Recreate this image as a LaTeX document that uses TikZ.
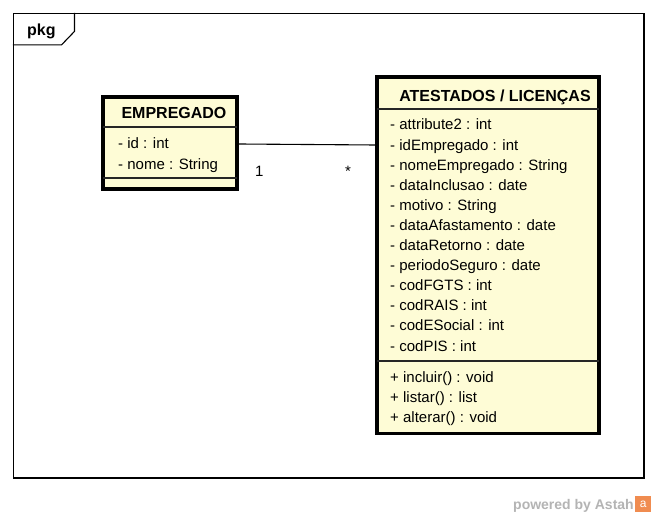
\documentclass[tikz,border=0pt]{standalone}
\usepackage{fontspec}
\setmainfont{Liberation Sans}
\definecolor{classfill}{RGB}{254,252,214}
\definecolor{wmgray}{RGB}{180,180,180}
\definecolor{astahorange}{RGB}{240,140,80}
\begin{document}
\begin{tikzpicture}[x=1pt,y=-1pt,
  classbox/.style={draw=black, line width=3.2pt, fill=classfill, inner sep=0pt},
  sepline/.style={line width=1.1pt, draw=black!85},
  attr/.style={anchor=base west, inner sep=0pt, font=\fontsize{15}{18}\selectfont},
  hdr/.style={anchor=base, inner sep=0pt, font=\fontsize{16}{19}\selectfont\bfseries},
  frameline/.style={draw=black, line width=1.1pt},
  assoc/.style={draw=black, line width=1.1pt},
  mult/.style={anchor=base west, inner sep=0pt, font=\fontsize{15}{18}\selectfont}]
\fill[white] (0,0) rectangle (657,518);
\useasboundingbox (0,0) rectangle (657,518);

% package frame
\node[frameline, minimum width=630.5pt, minimum height=464.5pt, inner sep=0pt] (frame) at (328.75,245.75) {};
\draw[frameline] (frame.north west) ++(0,32) -- ++(48.5,0) -- ++(13,-13.5) -- ++(0,-18.5);
\node[anchor=base west, inner sep=0pt, font=\fontsize{16}{19}\selectfont\bfseries] (pkg) at (27,36) {pkg};

% EMPREGADO
\node[classbox, minimum width=134pt, minimum height=92pt] (emp) at (170,143) {};
\draw[sepline] (103,127) -- (237,127);
\draw[sepline] (103,178) -- (237,178);
\node[hdr] (empname) at (174,118.5) {EMPREGADO};
\node[attr] (e0) at (118,149) {- id : int};
\node[attr] (e1) at (118,169.5) {- nome : String};

% ATESTADOS / LICENCAS
\node[classbox, minimum width=222pt, minimum height=356.5pt] (ates) at (488,255.25) {};
\draw[sepline] (377,109) -- (599,109);
\draw[sepline] (377,361) -- (599,361);
\node[hdr] (atesname) at (495,101.5) {ATESTADOS / LICENÇAS};
\foreach \t [count=\i from 0] in {{- attribute2 : int},{- idEmpregado : int},{- nomeEmpregado : String},{- dataInclusao : date},{- motivo : String},{- dataAfastamento : date},{- dataRetorno : date},{- periodoSeguro : date},{- codFGTS : int},{- codRAIS : int},{- codESocial : int},{- codPIS : int}}
  \node[attr] (a\i) at (390,130+20.1*\i) {\t};
\foreach \t [count=\i from 0] in {{+ incluir() : void},{+ listar() : list},{+ alterar() : void}}
  \node[attr] (m\i) at (390,383+20*\i) {\t};

% association
\draw[assoc] ([yshift=-1pt]emp.east) -- ([yshift=-2pt]emp.east -| ates.west);
\node[mult] (m1) at (255,177) {1};
\node[mult] (mstar) at (345,177) {*};

% watermark
\node[anchor=base west, inner sep=0pt, font=\fontsize{14}{16}\selectfont\bfseries, text=wmgray] (wm) at (513,510) {powered by Astah};
\node[fill=astahorange, minimum size=16pt, inner sep=0pt, anchor=north west, text=white, font=\fontsize{12}{12}\selectfont] (icon) at (635,496) {a};
\end{tikzpicture}
\end{document}
